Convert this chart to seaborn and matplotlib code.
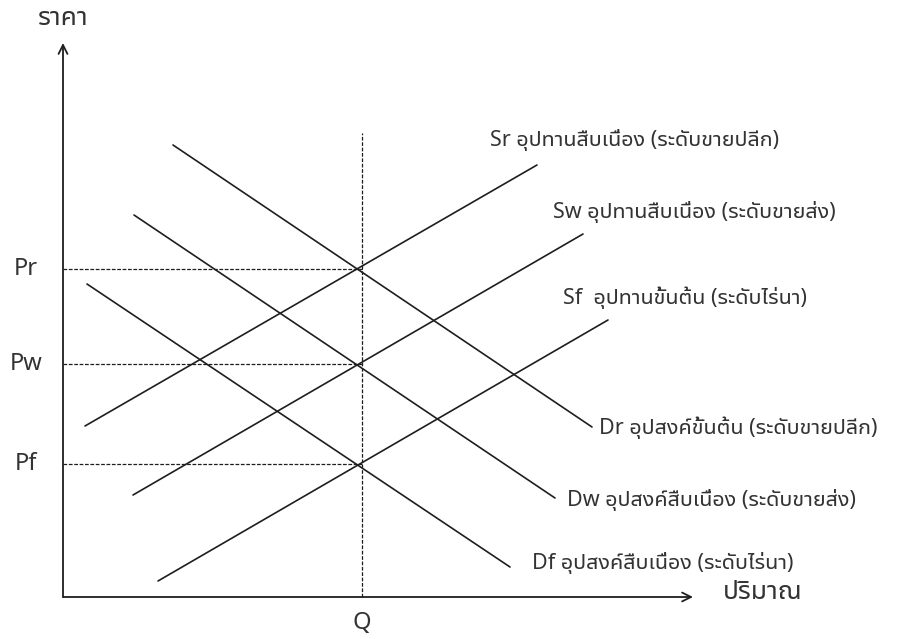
import matplotlib
matplotlib.use("Agg")
import matplotlib.pyplot as plt
import seaborn as sns
import pandas as pd

# curves: start and end points (quantity, price)
curves = ["Sr", "Sw", "Sf", "Dr", "Dw", "Df"]
q_start = [22, 70, 95, 110, 71, 24]
p_start = [171, 102, 16, 452, 382, 313]
q_end = [474, 520, 545, 529, 492, 447]
p_end = [432, 363, 277, 170, 99, 30]
curve_labels = [
    "Sr อุปทานสืบเนื่อง (ระดับขายปลีก)",
    "Sw อุปทานสืบเนื่อง (ระดับขายส่ง)",
    "Sf  อุปทานขั้นต้น (ระดับไร่นา)",
    "Dr อุปสงค์ขั้นต้น (ระดับขายปลีก)",
    "Dw อุปสงค์สืบเนื่อง (ระดับขายส่ง)",
    "Df อุปสงค์สืบเนื่อง (ระดับไร่นา)",
]

# equilibrium quantity and the three price levels
q_eq = 299
price_names = ["Pr", "Pw", "Pf"]
price_values = [328, 233, 133]

rows = []
for c, q0, p0, q1, p1 in zip(curves, q_start, p_start, q_end, p_end):
    rows.append({"curve": c, "q": q0, "p": p0})
    rows.append({"curve": c, "q": q1, "p": p1})
df = pd.DataFrame(rows)

sns.set_theme(style="white")
thai = ["Noto Sans Thai UI", "Noto Sans", "DejaVu Sans"]
plt.rcParams["font.family"] = thai

ink = "#1e1e1e"
txt = "#333333"

fig = plt.figure(figsize=(9.01, 6.39), dpi=100)
ax = fig.add_axes([0, 0, 1, 1])
ax.set_xlim(-63, 838)
ax.set_ylim(-42, 597)
ax.axis("off")

sns.lineplot(data=df, x="q", y="p", units="curve", estimator=None,
             color=ink, lw=1.2, ax=ax, legend=False)

# dashed guides
ax.hlines(price_values, 0, q_eq, colors=ink, lw=0.9, linestyles=(0, (3, 1.3)))
ax.vlines(q_eq, 0, 464, colors=ink, lw=0.9, linestyles=(0, (3, 1.3)))

# axes with arrows
arrow = dict(arrowstyle="->", lw=1.3, color=ink, mutation_scale=16, shrinkA=0, shrinkB=0)
ax.annotate("", xy=(630, 0), xytext=(0, 0), arrowprops=arrow)
ax.annotate("", xy=(0, 554), xytext=(0, 0), arrowprops=arrow)

ax.text(0, 579, "ราคา", ha="center", va="center", fontsize=19, color=txt)
ax.text(660, 5, "ปริมาณ", ha="left", va="center", fontsize=19, color=txt)
ax.text(q_eq, -26, "Q", ha="center", va="center", fontsize=17, color=txt)
for name, v in zip(price_names, price_values):
    ax.text(-37, v, name, ha="center", va="center", fontsize=17, color=txt)

label_pos = [(427, 457), (490, 385), (500, 299), (536, 169), (504, 97), (469, 34)]
for lab, (lx, ly) in zip(curve_labels, label_pos):
    ax.text(lx, ly, lab, ha="left", va="center", fontsize=15.5, color=txt)

fig.savefig("out.png", dpi=100)
